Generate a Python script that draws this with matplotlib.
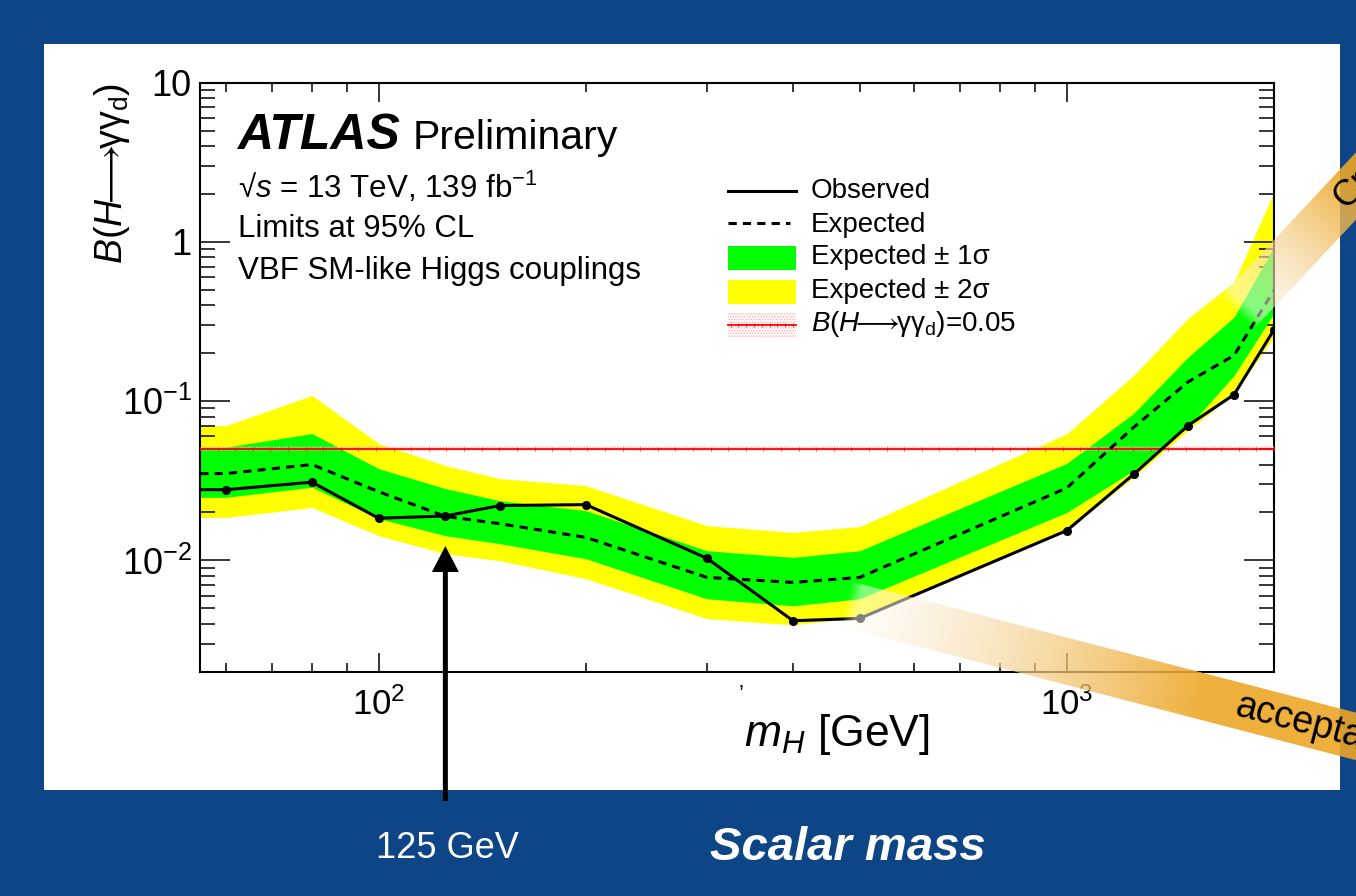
import numpy as np
import matplotlib
matplotlib.use("Agg")
import matplotlib.pyplot as plt
from matplotlib.patches import Rectangle, Polygon, FancyArrow
from matplotlib.lines import Line2D
from matplotlib.ticker import FixedLocator, FixedFormatter, LogLocator, NullFormatter

# ---- data: 95% CL upper limits on B(H -> gamma gamma_d), VBF production ----
mass = [50, 60, 80, 100, 125, 150, 200, 300, 400, 500, 1000, 1250, 1500, 1750, 2000]
observed = [0.0278, 0.0278, 0.0310, 0.0184, 0.0190, 0.0221, 0.0224, 0.0103,
            0.00418, 0.00432, 0.0154, 0.0347, 0.0703, 0.110, 0.281]
expected = [0.0350, 0.0351, 0.0400, 0.0270, 0.0189, 0.0170, 0.01395, 0.00782,
            0.00727, 0.00782, 0.0285, 0.0684, 0.132, 0.194, 0.497]
exp_minus1 = [0.0249, 0.0249, 0.0288, 0.0183, 0.0143, 0.01274, 0.01025, 0.00574,
              0.00519, 0.00574, 0.0200, 0.0367, 0.0686, 0.145, 0.356]
exp_plus1 = [0.0514, 0.0514, 0.0626, 0.0377, 0.02825, 0.0237, 0.02054, 0.0115,
             0.01045, 0.0115, 0.0407, 0.0837, 0.189, 0.3375, 0.930]
exp_minus2 = [0.0186, 0.0186, 0.0215, 0.0143, 0.0110, 0.00995, 0.00768, 0.00431,
              0.00394, 0.00438, 0.0154, 0.0333, 0.0654, 0.112, 0.253]
exp_plus2 = [0.0703, 0.0703, 0.1086, 0.0542, 0.0394, 0.0326, 0.0295, 0.01653,
             0.0150, 0.0163, 0.0624, 0.1451, 0.331, 0.560, 2.06]
br_reference = 0.05
higgs_mass = 125

x_range = (55, 2000)
y_range = (0.002, 10)
x_ticks = [100, 1000]
x_tick_labels = ["$10^{2}$", "$10^{3}$"]
y_ticks = [0.01, 0.1, 1, 10]
y_tick_labels = ["$10^{-2}$", "$10^{-1}$", "1", "10"]

# ---- style ----
plt.rcParams["font.family"] = ["Liberation Sans", "DejaVu Sans"]
plt.rcParams["mathtext.fontset"] = "custom"
plt.rcParams["mathtext.rm"] = "Liberation Sans"
plt.rcParams["mathtext.it"] = "Liberation Sans:italic"
plt.rcParams["mathtext.bf"] = "Liberation Sans:bold"
plt.rcParams["mathtext.fallback"] = "stixsans"
plt.rcParams["hatch.linewidth"] = 0.8

BLUE = "#0E4586"
GREEN = "#00ff00"
YELLOW = "#ffff00"
RED = "#ff0000"
HATCH = "#ffb0b0"
ORANGE = np.array([237, 166, 38]) / 255.0

BR_LABEL = r"$\mathit{B}(\mathit{H}\!\!\longrightarrow\!\!\mathrm{\gamma\gamma_{d}})$"

W, H = 1356, 896
fig = plt.figure(figsize=(W / 100, H / 100), dpi=100, facecolor=BLUE)

# white slide panel behind the plot
fig.add_artist(Rectangle((44 / W, (H - 790) / H), (1340 - 44) / W, (790 - 44) / H,
                         transform=fig.transFigure, facecolor="white",
                         edgecolor="none", zorder=-1))

ax_left, ax_right, ax_top, ax_bottom = 200, 1274, 82.7, 671.7
ax = fig.add_axes([ax_left / W, (H - ax_bottom) / H,
                   (ax_right - ax_left) / W, (ax_bottom - ax_top) / H], zorder=1)
ax.set_facecolor("white")
ax.set_xscale("log")
ax.set_yscale("log")
ax.set_xlim(*x_range)
ax.set_ylim(*y_range)

# bands
ax.fill_between(mass, exp_minus2, exp_plus2, color=YELLOW, lw=0, zorder=1)
ax.fill_between(mass, exp_minus1, exp_plus1, color=GREEN, lw=0, zorder=2)

# reference branching ratio line with its hatched band
ref_x = [mass[0], mass[-1]]
ax.fill_between(ref_x, [br_reference / 1.04] * 2, [br_reference * 1.04] * 2,
                facecolor="none", edgecolor=HATCH, hatch="......", lw=0, zorder=3)
ax.axhline(br_reference, color=RED, lw=1.3, zorder=4)
tick_x = np.geomspace(x_range[0], x_range[1], 62)
ax.plot(tick_x, np.full_like(tick_x, br_reference), ls="none", marker="|",
        ms=3, mew=0.7, color=RED, alpha=0.7, zorder=4)

# expected and observed limits
ax.plot(mass, expected, color="black", lw=2.2, ls=(0, (2.7, 2.0)), zorder=5)
ax.plot(mass, observed, color="black", lw=2.2, marker="o", ms=5.5, zorder=6)

# axes styling (ticks inside on all sides)
for sp in ax.spines.values():
    sp.set_linewidth(1.5)
ax.xaxis.set_major_locator(FixedLocator(x_ticks))
ax.xaxis.set_major_formatter(FixedFormatter(x_tick_labels))
ax.xaxis.set_minor_locator(LogLocator(base=10, subs=np.arange(2, 10), numticks=30))
ax.xaxis.set_minor_formatter(NullFormatter())
ax.yaxis.set_major_locator(FixedLocator(y_ticks))
ax.yaxis.set_major_formatter(FixedFormatter(y_tick_labels))
ax.yaxis.set_minor_locator(LogLocator(base=10, subs=np.arange(2, 10), numticks=30))
ax.yaxis.set_minor_formatter(NullFormatter())
ax.tick_params(which="both", direction="in", top=True, right=True,
               width=1.1, color="black", labelcolor="black")
ax.tick_params(axis="x", which="major", length=13.7, pad=11, labelsize=25)
ax.tick_params(axis="x", which="minor", length=6.8)
ax.tick_params(axis="y", which="major", length=21.6, pad=6, labelsize=26)
ax.tick_params(axis="y", which="minor", length=10.8)

ylab = ax.set_ylabel(BR_LABEL, fontsize=27)
ax.yaxis.set_label_coords((112 - ax_left) / (ax_right - ax_left), 1.0)
ylab.set_rotation_mode("default")
ylab.set_ha("center")
ylab.set_va("top")

xlab = ax.set_xlabel(r"$\mathit{m}_{\mathit{H}}$ [GeV]", fontsize=32)
ax.xaxis.set_label_coords((930 - ax_left) / (ax_right - ax_left),
                          (ax_bottom - 746) / (ax_bottom - ax_top))
xlab.set_ha("right")
xlab.set_va("baseline")

# ---- overlay in pixel coordinates ----
ov = fig.add_axes([0, 0, 1, 1], zorder=5)
ov.set_xlim(0, W)
ov.set_ylim(H, 0)
ov.axis("off")
ov.patch.set_alpha(0)

# plot labels
ov.text(237, 149, "ATLAS", fontsize=36, fontweight="bold", fontstyle="italic",
        va="baseline", ha="left")
ov.text(413, 149, "Preliminary", fontsize=29.5, va="baseline", ha="left")
ov.text(238, 198, r"√$\mathit{s}$ = 13 TeV, 139 fb$^{-1}$", fontsize=22.5,
        va="baseline", ha="left")
ov.text(238, 237, "Limits at 95% CL", fontsize=22.5, va="baseline", ha="left")
ov.text(238, 279, "VBF SM-like Higgs couplings", fontsize=22.5,
        va="baseline", ha="left")

# legend
lx0, lx1, tx = 727.7, 796.0, 811
leg_fs = 20
ov.add_line(Line2D([lx0, lx1], [190.7, 190.7], color="black", lw=2.2))
ov.text(tx, 198.3, "Observed", fontsize=leg_fs, va="baseline")
ov.add_line(Line2D([lx0, lx1 - 6], [223.3, 223.3], color="black", lw=2.2,
                   ls=(0, (2.7, 2.0))))
ov.text(tx, 231.7, "Expected", fontsize=leg_fs, va="baseline")
ov.add_patch(Rectangle((lx0, 246), lx1 - lx0, 24, facecolor=GREEN, edgecolor="none"))
ov.text(tx, 264.5, "Expected ± 1σ", fontsize=leg_fs, va="baseline")
ov.add_patch(Rectangle((lx0, 280), lx1 - lx0, 24, facecolor=YELLOW, edgecolor="none"))
ov.text(tx, 298, "Expected ± 2σ", fontsize=leg_fs, va="baseline")
ov.add_patch(Rectangle((lx0, 313), lx1 - lx0, 24, facecolor="none",
                       edgecolor=HATCH, hatch="......", lw=0))
ov.add_line(Line2D([lx0, lx1], [325, 325], color=RED, lw=1.3))
leg_ticks = np.linspace(lx0 + 3, lx1 - 3, 9)
ov.plot(leg_ticks, np.full_like(leg_ticks, 325), ls="none", marker="|",
        ms=3, mew=0.7, color=RED, alpha=0.7)
ov.text(tx, 331, BR_LABEL + "=0.05", fontsize=leg_fs, va="baseline")

ov.text(741, 694, "’", fontsize=16, ha="center", va="center")


def ribbon(p0, angle_deg, length, width, s_len, label, label_t, fs):
    """Semi-transparent white-to-orange ribbon with a label along it."""
    a = np.deg2rad(angle_deg)
    u = np.array([np.cos(a), -np.sin(a)])
    n = np.array([np.sin(a), np.cos(a)])
    p0 = np.asarray(p0, float)
    p1 = p0 + u * length
    hw = width / 2.0
    corners = np.array([p0 - n * hw, p1 - n * hw, p1 + n * hw, p0 + n * hw])
    poly = Polygon(corners, closed=True, facecolor="none", edgecolor="none")
    ov.add_patch(poly)
    x0 = max(0, int(corners[:, 0].min()) - 1)
    x1 = min(W, int(corners[:, 0].max()) + 1)
    y0 = max(0, int(corners[:, 1].min()) - 1)
    y1 = min(H, int(corners[:, 1].max()) + 1)
    X, Y = np.meshgrid(np.arange(x0, x1) + 0.5, np.arange(y0, y1) + 0.5)
    t = (X - p0[0]) * u[0] + (Y - p0[1]) * u[1]
    s = np.clip(t / s_len, 0, 1)
    img = np.zeros(X.shape + (4,))
    for c in range(3):
        img[..., c] = (1 - s) + ORANGE[c] * s
    img[..., 3] = np.clip(t / 14.0, 0, 1) * (0.5 + 0.4 * s)
    im = ov.imshow(img, extent=(x0, x1, y1, y0), origin="upper",
                   aspect="auto", interpolation="bilinear", zorder=6)
    im.set_clip_path(poly)
    lp = p0 + u * label_t
    ov.text(lp[0], lp[1], label, fontsize=fs, rotation=angle_deg,
            rotation_mode="anchor", ha="left", va="center", zorder=7)


ribbon((845, 603.6), -14.57, 600, 46, 370, "acceptance", 404, 27)
ribbon((1236.7, 313.5), 46.9, 320, 46, 175, "Cross-section", 150, 26)

ov.set_xlim(0, W)
ov.set_ylim(H, 0)

# Higgs mass arrow and slide captions
arrow_x = ax.transData.transform((higgs_mass, 1.0))[0]
ov.add_patch(FancyArrow(arrow_x, 801, 0, -(801 - 546), width=5, head_width=27,
                        head_length=26, length_includes_head=True,
                        color="black", lw=0, zorder=8))
ov.text(447, 848, "125 GeV", fontsize=26, color="white", ha="center", va="center")
ov.text(848, 848, "Scalar mass", fontsize=34, color="white", fontweight="bold",
        fontstyle="italic", ha="center", va="center")

fig.savefig("out.png", dpi=100, facecolor=fig.get_facecolor())
